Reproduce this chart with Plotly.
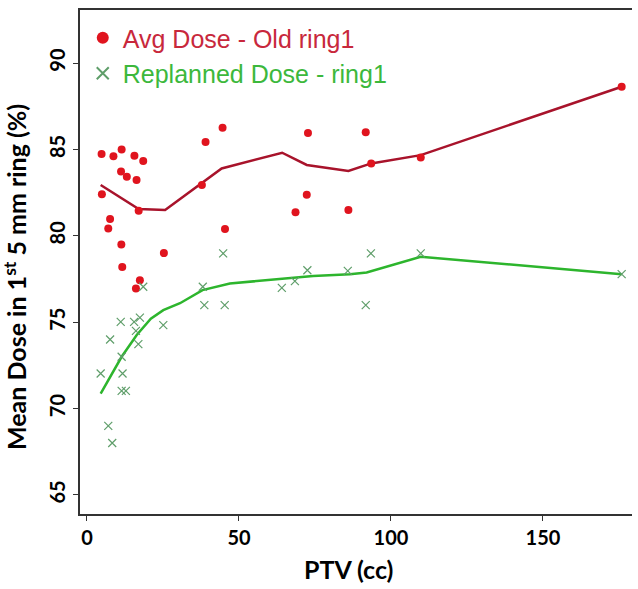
import plotly.graph_objects as go

# Avg Dose - Old ring1 (scatter)
old_x = [4.8, 8.7, 11.4, 15.6, 18.5, 11.2, 13.1, 16.3, 4.9, 17.0, 7.6, 7.0, 11.3, 25.3, 11.6, 17.4, 16.1,
         39.0, 44.6, 72.7, 91.7, 37.8, 72.3, 68.6, 86.0, 45.4, 93.5, 109.8, 175.9]
old_y = [84.73, 84.6, 85.0, 84.63, 84.33, 83.73, 83.42, 83.23, 82.4, 81.45, 80.97, 80.43, 79.5, 79.0, 78.2, 77.43, 76.95,
         85.43, 86.25, 85.95, 86.0, 82.94, 82.38, 81.37, 81.49, 80.39, 84.19, 84.54, 88.63]

# Replanned Dose - ring1 (scatter)
new_x = [11.1, 15.5, 17.4, 16.1, 25.1, 7.6, 16.9, 11.4, 4.5, 11.7, 11.4, 12.8, 7.0, 8.3, 18.5,
         44.8, 93.4, 72.5, 85.8, 68.4, 64.1, 38.1, 38.6, 45.3, 91.7, 109.8, 175.9]
new_y = [75.02, 75.02, 75.27, 74.5, 74.83, 74.0, 73.73, 73.0, 72.03, 72.03, 71.03, 71.03, 69.0, 68.01, 77.05,
         78.98, 78.98, 78.01, 77.97, 77.38, 76.99, 77.05, 75.99, 75.99, 75.99, 78.98, 77.78]

# smoothed fit lines
old_fit_x = [4.5, 17.0, 25.7, 44.3, 64.2, 72.3, 86.0, 93.5, 109.8, 175.9]
old_fit_y = [82.94, 81.55, 81.49, 83.9, 84.81, 84.1, 83.75, 84.19, 84.67, 88.63]
new_fit_x = [4.5, 11.4, 16.3, 21.0, 25.1, 30.6, 38.0, 47.0, 74.4, 86.5, 92.0, 109.8, 175.9]
new_fit_y = [70.87, 73.0, 74.25, 75.2, 75.7, 76.1, 76.86, 77.24, 77.68, 77.78, 77.88, 78.79, 77.78]

x_ticks = [0, 50, 100, 150]
y_ticks = [65, 70, 75, 80, 85, 90]

RED_DOT = "#e0141e"
RED_LINE = "#a8132b"
GREEN_X = "#5f9e6a"
GREEN_LINE = "#2db52d"
FONT = "Lato, 'Liberation Sans', Arial, sans-serif"

fig = go.Figure()
fig.add_trace(go.Scatter(x=old_fit_x, y=old_fit_y, mode="lines",
                         line=dict(color=RED_LINE, width=2.5), showlegend=False, hoverinfo="skip"))
fig.add_trace(go.Scatter(x=new_fit_x, y=new_fit_y, mode="lines",
                         line=dict(color=GREEN_LINE, width=2.5), showlegend=False, hoverinfo="skip"))
fig.add_trace(go.Scatter(x=old_x, y=old_y, mode="markers", legendgroup="a",
                         name='<span style="color:#c8283c">Avg Dose - Old ring1</span>',
                         marker=dict(color=RED_DOT, size=8, symbol="circle")))
fig.add_trace(go.Scatter(x=new_x, y=new_y, mode="markers", legendgroup="b",
                         name='<span style="color:#3cb83c">Replanned Dose - ring1</span>',
                         marker=dict(color=GREEN_X, size=8, symbol="x-thin",
                                     line=dict(color=GREEN_X, width=1.2))))

fig.update_layout(
    width=638, height=589,
    margin=dict(l=80, r=6, t=10, b=75),
    plot_bgcolor="white", paper_bgcolor="white",
    font=dict(family=FONT, size=20, color="black"),
    legend=dict(x=0.005, y=0.99, xanchor="left", yanchor="top",
                bgcolor="rgba(0,0,0,0)", font=dict(size=25, family="'Liberation Sans', Arial, sans-serif"),
                itemsizing="constant", tracegroupgap=0),
    xaxis=dict(range=[-2.3, 179.3], tickvals=x_ticks, ticktext=[str(v) for v in x_ticks],
               showgrid=False, zeroline=False, showline=True, linecolor="#333", linewidth=1.5,
               mirror=True, ticks="outside", ticklen=5, tickcolor="#333",
               tickfont=dict(family=FONT, size=20, color="black", weight="bold")),
    yaxis=dict(range=[63.9, 93.07], tickvals=y_ticks, ticktext=[str(v) for v in y_ticks],
               showgrid=False, zeroline=False, showline=True, linecolor="#333", linewidth=1.5,
               ticks="outside", ticklen=5, tickcolor="#333", tickangle=-90,
               tickfont=dict(family=FONT, size=20, color="black", weight="bold")),
    annotations=[dict(text="<b>Mean Dose in 1<sup>st</sup> 5 mm ring (%)</b>",
                      xref="paper", yref="paper", x=-0.118, y=0.47,
                      xanchor="center", yanchor="middle", textangle=-90, showarrow=False,
                      font=dict(family=FONT, size=25, color="black")),
                 dict(text="<b>PTV (cc)</b>",
                      xref="paper", yref="paper", x=0.487, y=-0.14,
                      xanchor="center", yanchor="bottom", showarrow=False, borderpad=0,
                      font=dict(family=FONT, size=25, color="black"))],
)

fig.write_html("out.html", config={"displayModeBar": False},
               post_script="document.body.style.margin='0';")
